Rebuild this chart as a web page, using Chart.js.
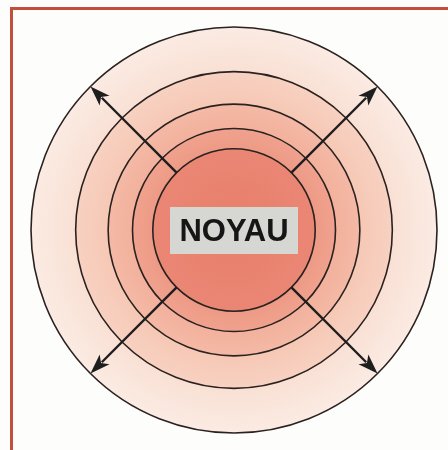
<!DOCTYPE html>
<html>
<head>
<meta charset="utf-8">
<script src="https://cdn.jsdelivr.net/npm/chart.js@4/dist/chart.umd.min.js"></script>
<style>
  html, body { margin: 0; padding: 0; background: #fdfdfb; }
  #wrap { position: relative; width: 448px; height: 450px; overflow: hidden; }
  #frame {
    position: absolute; left: 10px; top: 7px; width: 460px; height: 460px;
    border-left: 3px solid #c24f39; border-top: 3px solid #c24f39;
  }
  canvas { position: absolute; left: 0; top: 0; }
</style>
</head>
<body>
<div id="wrap">
  <div id="frame"></div>
  <canvas id="myChart" width="448" height="450"></canvas>
</div>
<script>
// layers from the core outwards (radius, outer circle = 100)
const layers = ['NOYAU', 'couche 1', 'couche 2', 'couche 3', 'couche 4'];
const radii = [40, 50, 62, 78, 100];
const coreLabel = 'NOYAU';

const innerColors = ['#e77e6b', '#ed9a85', '#f2b19c', '#f6c8b5', '#f9e0d4'];
const outerColors = ['#ea8774', '#f0a28e', '#f4b9a5', '#f8d1c1', '#fbebe3'];

function ringFill(i) {
  return function (context) {
    const chart = context.chart;
    const r = chart.scales.r;
    if (!r || !chart.chartArea) return innerColors[i];
    const r0 = i === 0 ? 0 : r.getDistanceFromCenterForValue(radii[i - 1]);
    const r1 = r.getDistanceFromCenterForValue(radii[i]);
    const g = chart.ctx.createRadialGradient(r.xCenter, r.yCenter, r0, r.xCenter, r.yCenter, r1);
    g.addColorStop(0, innerColors[i]);
    g.addColorStop(1, outerColors[i]);
    return g;
  };
}

const arrowsAndLabel = {
  id: 'arrowsAndLabel',
  afterDraw(chart) {
    const r = chart.scales.r;
    const ctx = chart.ctx;
    const cx = r.xCenter, cy = r.yCenter;
    const rin = r.getDistanceFromCenterForValue(radii[0]);
    const rout = r.getDistanceFromCenterForValue(radii[radii.length - 1]);
    ctx.save();
    ctx.strokeStyle = '#1e1e1e';
    ctx.fillStyle = '#1e1e1e';
    ctx.lineWidth = 2.4;
    [-135, -45, 45, 135].forEach(function (deg) {
      const a = deg * Math.PI / 180;
      const c = Math.cos(a), s = Math.sin(a);
      const x1 = cx + c * rin, y1 = cy + s * rin;
      const x2 = cx + c * rout, y2 = cy + s * rout;
      const hl = 20, hw = 7;
      ctx.beginPath();
      ctx.moveTo(x1, y1);
      ctx.lineTo(x2 - c * (hl - 4), y2 - s * (hl - 4));
      ctx.stroke();
      const bx = x2 - c * hl, by = y2 - s * hl;
      ctx.beginPath();
      ctx.moveTo(x2, y2);
      ctx.lineTo(bx - s * hw, by + c * hw);
      ctx.lineTo(x2 - c * (hl - 5), y2 - s * (hl - 5));
      ctx.lineTo(bx + s * hw, by - c * hw);
      ctx.closePath();
      ctx.fill();
    });
    // label box
    ctx.fillStyle = '#d6d6d3';
    ctx.fillRect(cx - 64, cy - 23, 128, 47);
    ctx.fillStyle = '#161616';
    ctx.font = 'bold 31px "Liberation Sans", Arial, sans-serif';
    ctx.textAlign = 'center';
    ctx.textBaseline = 'middle';
    ctx.fillText(coreLabel, cx, cy + 2);
    ctx.restore();
  }
};

new Chart(document.getElementById('myChart'), {
  type: 'polarArea',
  data: {
    labels: [coreLabel],
    datasets: radii.map(function (v, i) {
      return {
        label: layers[i],
        data: [v],
        backgroundColor: ringFill(i),
        borderWidth: 0
      };
    })
  },
  options: {
    responsive: false,
    animation: false,
    events: [],
    layout: { padding: { left: 31, right: 10, top: 27, bottom: 16 } },
    plugins: { legend: { display: false }, tooltip: { enabled: false } },
    scales: {
      r: {
        min: 0,
        max: 100,
        afterBuildTicks: function (scale) {
          scale.ticks = [0].concat(radii).map(function (v) { return { value: v }; });
        },
        ticks: { display: false },
        pointLabels: { display: false },
        angleLines: { display: false },
        grid: { circular: true, color: '#2a2220', lineWidth: 1.6, z: 1 }
      }
    }
  },
  plugins: [arrowsAndLabel]
});
</script>
</body>
</html>
